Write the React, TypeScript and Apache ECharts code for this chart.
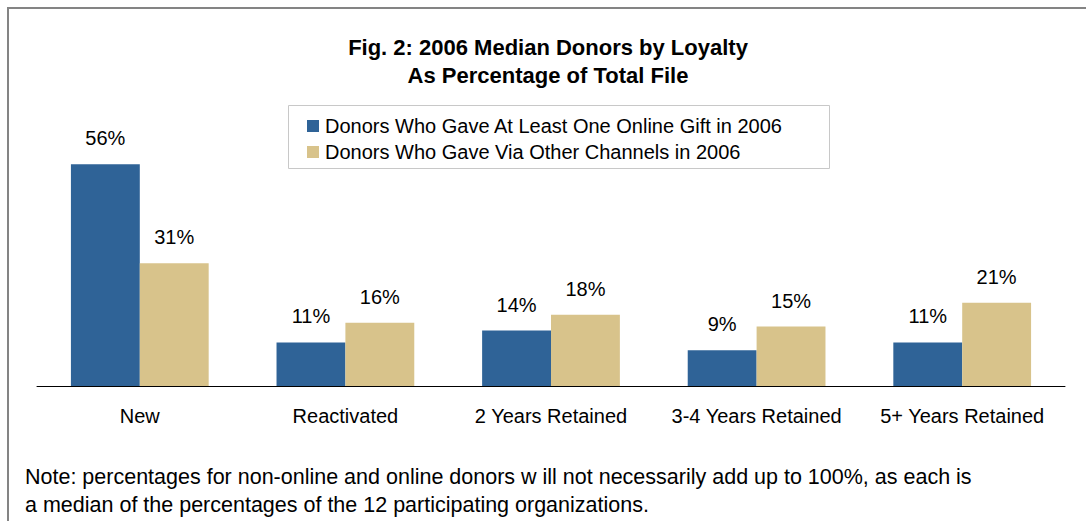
import React, { useEffect, useRef } from "react";
import * as echarts from "echarts";

const categories = ["New", "Reactivated", "2 Years Retained", "3-4 Years Retained", "5+ Years Retained"];
const onlineValues = [56, 11, 14, 9, 11];
const otherValues = [31, 16, 18, 15, 21];
const seriesNames = [
  "Donors Who Gave At Least One Online Gift in 2006",
  "Donors Who Gave Via Other Channels in 2006",
];
const titleLines = ["Fig. 2: 2006 Median Donors by Loyalty", "As Percentage of Total File"];
const noteLines = [
  "Note: percentages for non-online and online donors w ill not necessarily add up to 100%, as each is",
  "a median of the percentages of the 12 participating organizations.",
];

const FONT = "'Liberation Sans', Arial, sans-serif";
const BLUE = "#2F6397";
const TAN = "#D8C38B";

export default function App() {
  const ref = useRef<HTMLDivElement>(null);
  useEffect(() => {
    if (!ref.current) return;
    const chart = echarts.init(ref.current, undefined, { renderer: "svg" });
    chart.setOption({
      animation: false,
      backgroundColor: "#fff",
      textStyle: { fontFamily: FONT },
      legend: {
        orient: "vertical",
        left: 302,
        top: 111,
        itemWidth: 12,
        itemHeight: 12,
        itemGap: 6,
        icon: "rect",
        textStyle: { fontSize: 20, color: "#000", fontFamily: FONT, padding: [0, 0, 0, 1] },
        data: seriesNames,
      },
      grid: { left: 37, right: 21, top: 148.4, bottom: 135, containLabel: false },
      xAxis: {
        type: "category",
        data: categories,
        axisLine: { lineStyle: { color: "#000", width: 1 } },
        axisTick: { show: false },
        axisLabel: { interval: 0, fontSize: 20, color: "#000", margin: 20, fontFamily: FONT },
      },
      yAxis: { type: "value", min: 0, max: 60, show: false, splitLine: { show: false } },
      series: [
        {
          name: seriesNames[0],
          type: "bar",
          data: onlineValues,
          barCategoryGap: "33%",
          barGap: "0%",
          itemStyle: { color: BLUE },
          label: { show: true, position: "top", distance: 16, formatter: "{c}%", fontSize: 20, color: "#000", fontFamily: FONT },
        },
        {
          name: seriesNames[1],
          type: "bar",
          data: otherValues,
          barCategoryGap: "33%",
          barGap: "0%",
          itemStyle: { color: TAN },
          label: { show: true, position: "top", distance: 16, formatter: "{c}%", fontSize: 20, color: "#000", fontFamily: FONT },
        },
      ],
      graphic: [
        {
          type: "rect",
          shape: { x: 8, y: 8, width: 1100, height: 540 },
          style: { fill: "none", stroke: "#848484", lineWidth: 2 },
          silent: true,
        },
        {
          type: "rect",
          shape: { x: 288.5, y: 105.5, width: 541, height: 63 },
          style: { fill: "none", stroke: "#C8C8C8", lineWidth: 1 },
          silent: true,
        },
        {
          type: "text",
          x: 548,
          y: 47,
          style: { text: titleLines[0], fontSize: 22, fontWeight: "bold", fill: "#000", fontFamily: FONT, textAlign: "center", textVerticalAlign: "middle" },
        },
        {
          type: "text",
          x: 548,
          y: 75,
          style: { text: titleLines[1], fontSize: 22, fontWeight: "bold", fill: "#000", fontFamily: FONT, textAlign: "center", textVerticalAlign: "middle" },
        },
        {
          type: "text",
          x: 25,
          y: 477,
          style: { text: noteLines[0], fontSize: 21.5, fill: "#000", fontFamily: FONT, textVerticalAlign: "middle" },
        },
        {
          type: "text",
          x: 25,
          y: 505,
          style: { text: noteLines[1], fontSize: 21.5, fill: "#000", fontFamily: FONT, textVerticalAlign: "middle" },
        },
      ],
    });
    return () => chart.dispose();
  }, []);
  return (
    <div
      ref={ref}
      style={{ position: "fixed", left: 0, top: 0, width: 1086, height: 521 }}
    />
  );
}
